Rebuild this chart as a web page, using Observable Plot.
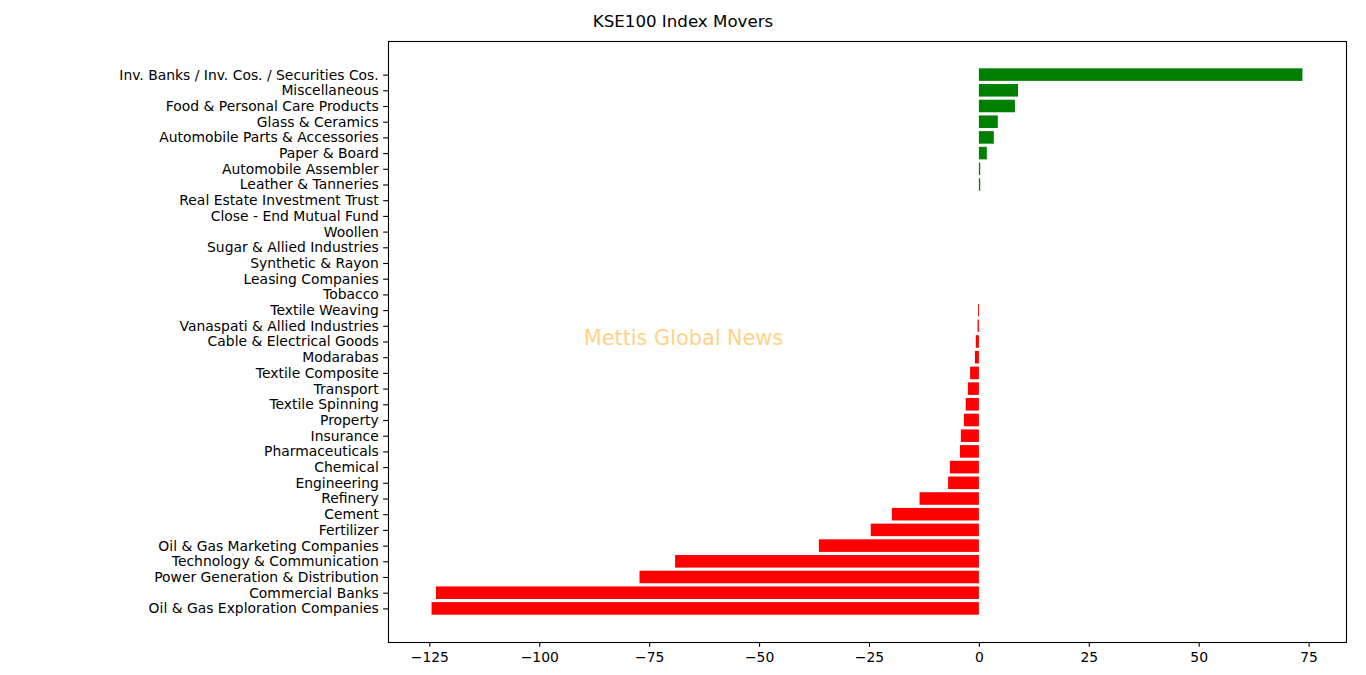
<!DOCTYPE html>
<html>
<head>
<meta charset="utf-8">
<script src="https://cdn.jsdelivr.net/npm/d3@7"></script>
<script src="https://cdn.jsdelivr.net/npm/@observablehq/plot@0.6"></script>
<style>
  html, body { margin: 0; padding: 0; background: #fff; }
  #title { width: 1366px; height: 17px; padding-top: 13px; text-align: center;
           font-family: "DejaVu Sans", sans-serif; font-size: 16.67px; line-height: 17px; color: #000; }
  #chart svg { display: block; }
</style>
</head>
<body>
<div id="title">KSE100 Index Movers</div>
<div id="chart"></div>
<script>
const sectors = [
  "Inv. Banks / Inv. Cos. / Securities Cos.",
  "Miscellaneous",
  "Food & Personal Care Products",
  "Glass & Ceramics",
  "Automobile Parts & Accessories",
  "Paper & Board",
  "Automobile Assembler",
  "Leather & Tanneries",
  "Real Estate Investment Trust",
  "Close - End Mutual Fund",
  "Woollen",
  "Sugar & Allied Industries",
  "Synthetic & Rayon",
  "Leasing Companies",
  "Tobacco",
  "Textile Weaving",
  "Vanaspati & Allied Industries",
  "Cable & Electrical Goods",
  "Modarabas",
  "Textile Composite",
  "Transport",
  "Textile Spinning",
  "Property",
  "Insurance",
  "Pharmaceuticals",
  "Chemical",
  "Engineering",
  "Refinery",
  "Cement",
  "Fertilizer",
  "Oil & Gas Marketing Companies",
  "Technology & Communication",
  "Power Generation & Distribution",
  "Commercial Banks",
  "Oil & Gas Exploration Companies"
];
const points = [
  73.6, 8.9, 8.2, 4.3, 3.4, 1.8, 0.3, 0.3,
  0, 0, 0, 0, 0, 0, 0,
  -0.2, -0.3, -0.7, -0.9, -2.0, -2.5, -3.0, -3.4, -4.1, -4.3,
  -6.6, -7.0, -13.5, -19.8, -24.6, -36.4, -69.1, -77.2, -123.5, -124.5
];
const xTicks = [-125, -100, -75, -50, -25, 0, 25, 50, 75];
const watermark = "Mettis Global News";

const data = sectors.map((s, i) => ({sector: s, value: points[i]}));
const lo = d3.min(points), hi = d3.max(points), pad = (hi - lo) * 0.05;

const chart = Plot.plot({
  width: 1366,
  height: 645,
  marginTop: 11,
  marginBottom: 33,
  marginLeft: 388,
  marginRight: 20,
  style: {fontFamily: "DejaVu Sans, sans-serif", fontSize: "13.9px", color: "#000", background: "#fff"},
  x: {domain: [lo - pad, hi + pad], label: null},
  y: {type: "band", domain: sectors, paddingInner: 0.2, paddingOuter: 1.74, round: false, label: null},
  marks: [
    Plot.barX(data, {x: "value", y: "sector", fill: d => d.value > 0 ? "#008000" : "#ff0000"}),
    Plot.text([watermark], {frameAnchor: "middle", dx: -184, dy: -4, text: d => d,
      fill: "orange", fillOpacity: 0.5, fontSize: 20.8, fontFamily: "DejaVu Sans, sans-serif"}),
    Plot.axisX({ticks: xTicks, tickSize: 4.86, tickPadding: 4.86, strokeWidth: 1.1, label: null,
      fontSize: 13.9, tickFormat: d => d3.format("d")(d)}),
    Plot.axisY({tickSize: 4.86, tickPadding: 4.86, strokeWidth: 1.1, label: null, fontSize: 13.9}),
    Plot.frame({stroke: "#000", strokeWidth: 1.1})
  ]
});
document.getElementById("chart").appendChild(chart);
</script>
</body>
</html>
